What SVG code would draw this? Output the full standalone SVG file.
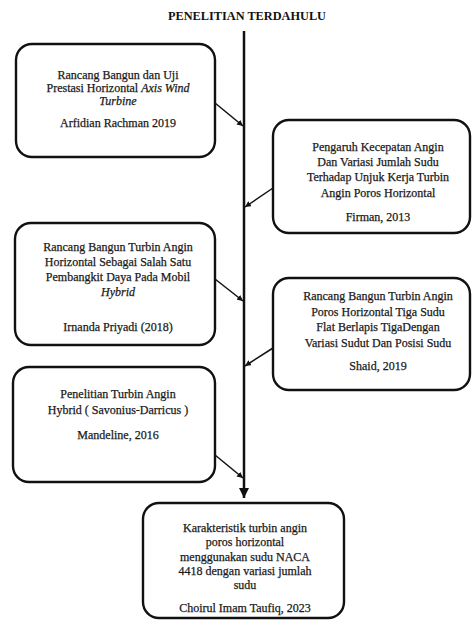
<svg xmlns="http://www.w3.org/2000/svg" width="472" height="621" viewBox="0 0 472 621">
<defs>
<marker id="ah" viewBox="0 0 10 10" refX="10" refY="5" markerWidth="6" markerHeight="6" markerUnits="userSpaceOnUse" orient="auto">
<path d="M0,0 L10,5 L0,10 z" fill="#111"/>
</marker>
<marker id="ahBig" viewBox="0 0 10 10" refX="10" refY="5" markerWidth="10" markerHeight="10" markerUnits="userSpaceOnUse" orient="auto">
<path d="M0,0 L10,5 L0,10 z" fill="#111"/>
</marker>
</defs>
<style>
.box{fill:#fff;stroke:#111;stroke-width:2.4}
.t{font-family:"Liberation Serif","Times New Roman",serif;font-size:12px;fill:#1a1a1a;stroke:#1a1a1a;stroke-width:0.25;text-anchor:middle}
.i{font-style:italic}
.title{font-family:"Liberation Serif","Times New Roman",serif;font-size:12.3px;font-weight:bold;fill:#111;text-anchor:middle}
.c{stroke:#111;stroke-width:1.5;fill:none}
.main{stroke:#111;stroke-width:2.5;fill:none}
</style>
<rect width="472" height="621" fill="#fff"/>
<text class="title" x="247" y="20">PENELITIAN TERDAHULU</text>
<g id="connectors">
<line class="main" x1="244" y1="31" x2="244" y2="498" marker-end="url(#ahBig)"/>
<line class="c" x1="215" y1="103" x2="243" y2="126" marker-end="url(#ah)"/>
<line class="c" x1="273" y1="188" x2="245" y2="207" marker-end="url(#ah)"/>
<line class="c" x1="215" y1="279" x2="243" y2="301" marker-end="url(#ah)"/>
<line class="c" x1="273" y1="348" x2="245" y2="366" marker-end="url(#ah)"/>
<line class="c" x1="215" y1="455" x2="243" y2="478" marker-end="url(#ah)"/>
</g>
<g id="box1">
<rect class="box" x="16" y="44" width="199" height="113" rx="16"/>
<text class="t" x="118" y="79">Rancang Bangun dan Uji</text>
<text class="t" x="118" y="92">Prestasi Horizontal <tspan class="i">Axis Wind</tspan></text>
<text class="t i" x="118" y="105">Turbine</text>
<text class="t" x="118" y="127">Arfidian Rachman 2019</text>
</g>
<g id="box2">
<rect class="box" x="273" y="120" width="197" height="113" rx="16"/>
<text class="t" x="378" y="151">Pengaruh Kecepatan Angin</text>
<text class="t" x="378" y="166">Dan Variasi Jumlah Sudu</text>
<text class="t" x="378" y="181">Terhadap Unjuk Kerja Turbin</text>
<text class="t" x="378" y="197">Angin Poros Horizontal</text>
<text class="t" x="378" y="221">Firman, 2013</text>
</g>
<g id="box3">
<rect class="box" x="15" y="223" width="200" height="122" rx="16"/>
<text class="t" x="118" y="251">Rancang Bangun Turbin Angin</text>
<text class="t" x="118" y="266">Horizontal Sebagai Salah Satu</text>
<text class="t" x="118" y="281">Pembangkit Daya Pada Mobil</text>
<text class="t i" x="118" y="296">Hybrid</text>
<text class="t" x="118" y="331">Irnanda Priyadi (2018)</text>
</g>
<g id="box4">
<rect class="box" x="273" y="278" width="197" height="112" rx="16"/>
<text class="t" x="378" y="300">Rancang Bangun Turbin Angin</text>
<text class="t" x="378" y="316">Poros Horizontal Tiga Sudu</text>
<text class="t" x="378" y="331">Flat Berlapis TigaDengan</text>
<text class="t" x="378" y="347">Variasi Sudut Dan Posisi Sudu</text>
<text class="t" x="378" y="370">Shaid, 2019</text>
</g>
<g id="box5">
<rect class="box" x="13" y="367" width="202" height="115" rx="16"/>
<text class="t" x="118" y="398">Penelitian Turbin Angin</text>
<text class="t" x="118" y="414">Hybrid ( Savonius-Darricus )</text>
<text class="t" x="118" y="439">Mandeline, 2016</text>
</g>
<g id="box6">
<rect class="box" x="143" y="503" width="201" height="115" rx="16"/>
<text class="t" x="245" y="532">Karakteristik turbin angin</text>
<text class="t" x="245" y="546">poros horizontal</text>
<text class="t" x="245" y="561">menggunakan sudu NACA</text>
<text class="t" x="245" y="575">4418 dengan variasi jumlah</text>
<text class="t" x="245" y="589">sudu</text>
<text class="t" x="245" y="612">Choirul Imam Taufiq, 2023</text>
</g>
</svg>
